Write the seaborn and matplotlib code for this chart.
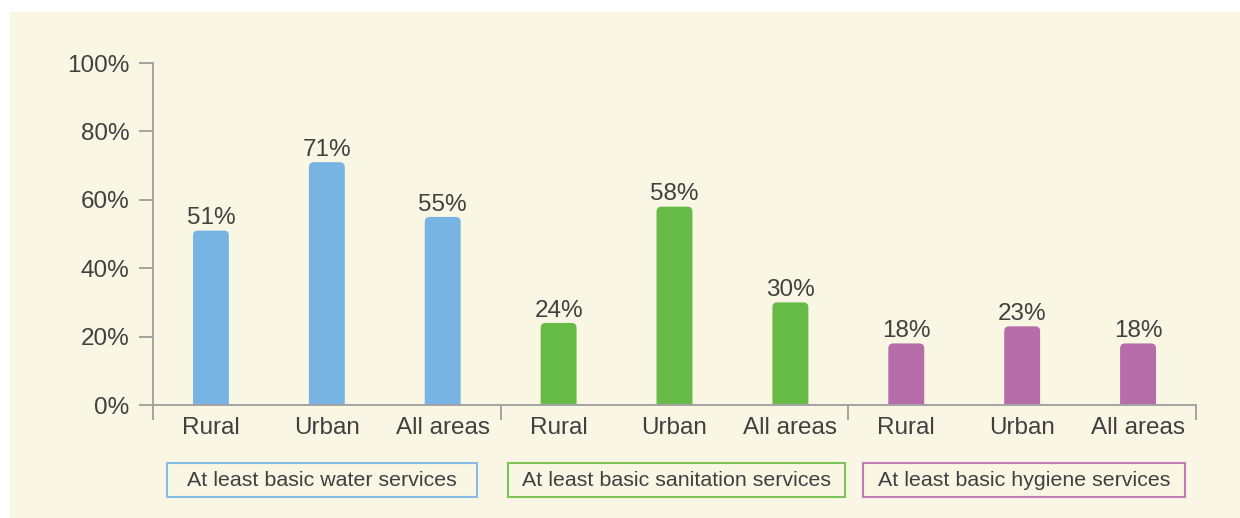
import matplotlib
matplotlib.use("Agg")
import matplotlib.pyplot as plt
from matplotlib.patches import FancyBboxPatch, Rectangle
from matplotlib.ticker import FuncFormatter, FixedLocator
import seaborn as sns
import pandas as pd

# Service coverage by area
services = ["At least basic water services",
            "At least basic sanitation services",
            "At least basic hygiene services"]
areas = ["Rural", "Urban", "All areas"]
water = [51, 71, 55]
sanitation = [24, 58, 30]
hygiene = [18, 23, 18]
yticks = [0, 20, 40, 60, 80, 100]

colors = {services[0]: "#78B4E3", services[1]: "#66BA46", services[2]: "#B56CA8"}
edge_colors = {services[0]: "#86BDE6", services[1]: "#7CC35A", services[2]: "#C27DB6"}
text_color = "#404040"
axis_color = "#A3A3A3"
panel_color = "#FAF6E4"

rows = []
for svc, vals in zip(services, [water, sanitation, hygiene]):
    for area, v in zip(areas, vals):
        rows.append({"slot": f"{svc}|{area}", "service": svc, "area": area, "value": v})
df = pd.DataFrame(rows)

sns.set_theme(style="white")
plt.rcParams["font.family"] = ["Liberation Sans", "DejaVu Sans"]

W, H = 1240, 518
fig = plt.figure(figsize=(W / 100, H / 100), dpi=100, facecolor="white")
# cream panel behind everything
fig.patches.append(Rectangle((10 / W, 0), 1 - 10 / W, 1 - 12 / H, transform=fig.transFigure,
                             facecolor=panel_color, edgecolor="none", zorder=-10))

ax = fig.add_axes([153 / W, (H - 405) / H, (1196 - 153) / W, (405 - 63) / H])
ax.set_facecolor("none")
ax.set_zorder(5)

sns.barplot(data=df, x="slot", y="value", hue="service", order=list(df["slot"]),
            palette=colors, width=0.31, legend=False, ax=ax, saturation=1)

ax.set_xlim(-0.5, len(df) - 0.5)
ax.set_ylim(0, 100)

# round the top corners of each bar; the lower rounded corners fall below
# the x axis and are clipped away
px_x = (1196 - 153) / (len(df))          # pixels per x unit
px_y = (405 - 63) / 100                  # pixels per y unit
aspect = px_x / px_y
r = 5 / px_x
extra = 4.0
bars = list(ax.patches)
for p in bars:
    x0, y0 = p.get_x(), p.get_y()
    w, h = p.get_width(), p.get_height()
    fc = p.get_facecolor()
    p.remove()
    ax.add_patch(FancyBboxPatch((x0, y0 - extra), w, h + extra,
                                boxstyle=f"round,pad=0,rounding_size={r}",
                                mutation_aspect=aspect, facecolor=fc, edgecolor="none",
                                zorder=2, clip_on=True))

# value labels
for i, v in enumerate(df["value"]):
    ax.annotate(f"{v}%", (i, v), xytext=(0, 1), textcoords="offset points",
                ha="center", va="bottom", fontsize=17.5, color=text_color)

# axes styling
sns.despine(ax=ax, top=True, right=True)
for side in ["left", "bottom"]:
    ax.spines[side].set_color(axis_color)
    ax.spines[side].set_linewidth(1.4)

ax.yaxis.set_major_locator(FixedLocator(yticks))
ax.yaxis.set_major_formatter(FuncFormatter(lambda v, _: f"{v:.0f}%"))
ax.tick_params(axis="y", which="major", direction="out", length=10, width=1.4,
               color=axis_color, labelsize=17.5, labelcolor=text_color, pad=7, left=True)

ax.set_xticks(range(len(df)))
ax.set_xticklabels(df["area"])
ax.tick_params(axis="x", which="major", length=0, labelsize=17.5, labelcolor=text_color, pad=9)
ax.xaxis.set_minor_locator(FixedLocator([-0.5, 2.5, 5.5, 8.5]))
ax.tick_params(axis="x", which="minor", direction="out", length=11, width=1.4,
               color=axis_color, bottom=True)
ax.set_xlabel("")
ax.set_ylabel("")

# group caption boxes
boxes = [(167, 477), (508, 845), (863, 1185)]
for svc, (xl, xr) in zip(services, boxes):
    yt, yb = 463, 497
    fig.patches.append(Rectangle((xl / W, (H - yb) / H), (xr - xl) / W, (yb - yt) / H,
                                 transform=fig.transFigure, facecolor="none",
                                 edgecolor=edge_colors[svc], linewidth=1.5, zorder=3))
    fig.text((xl + xr) / 2 / W, (H - (yt + yb) / 2) / H, svc, ha="center", va="center",
             fontsize=15.4, color=text_color)

fig.savefig("out.png", dpi=100, facecolor=fig.get_facecolor())
